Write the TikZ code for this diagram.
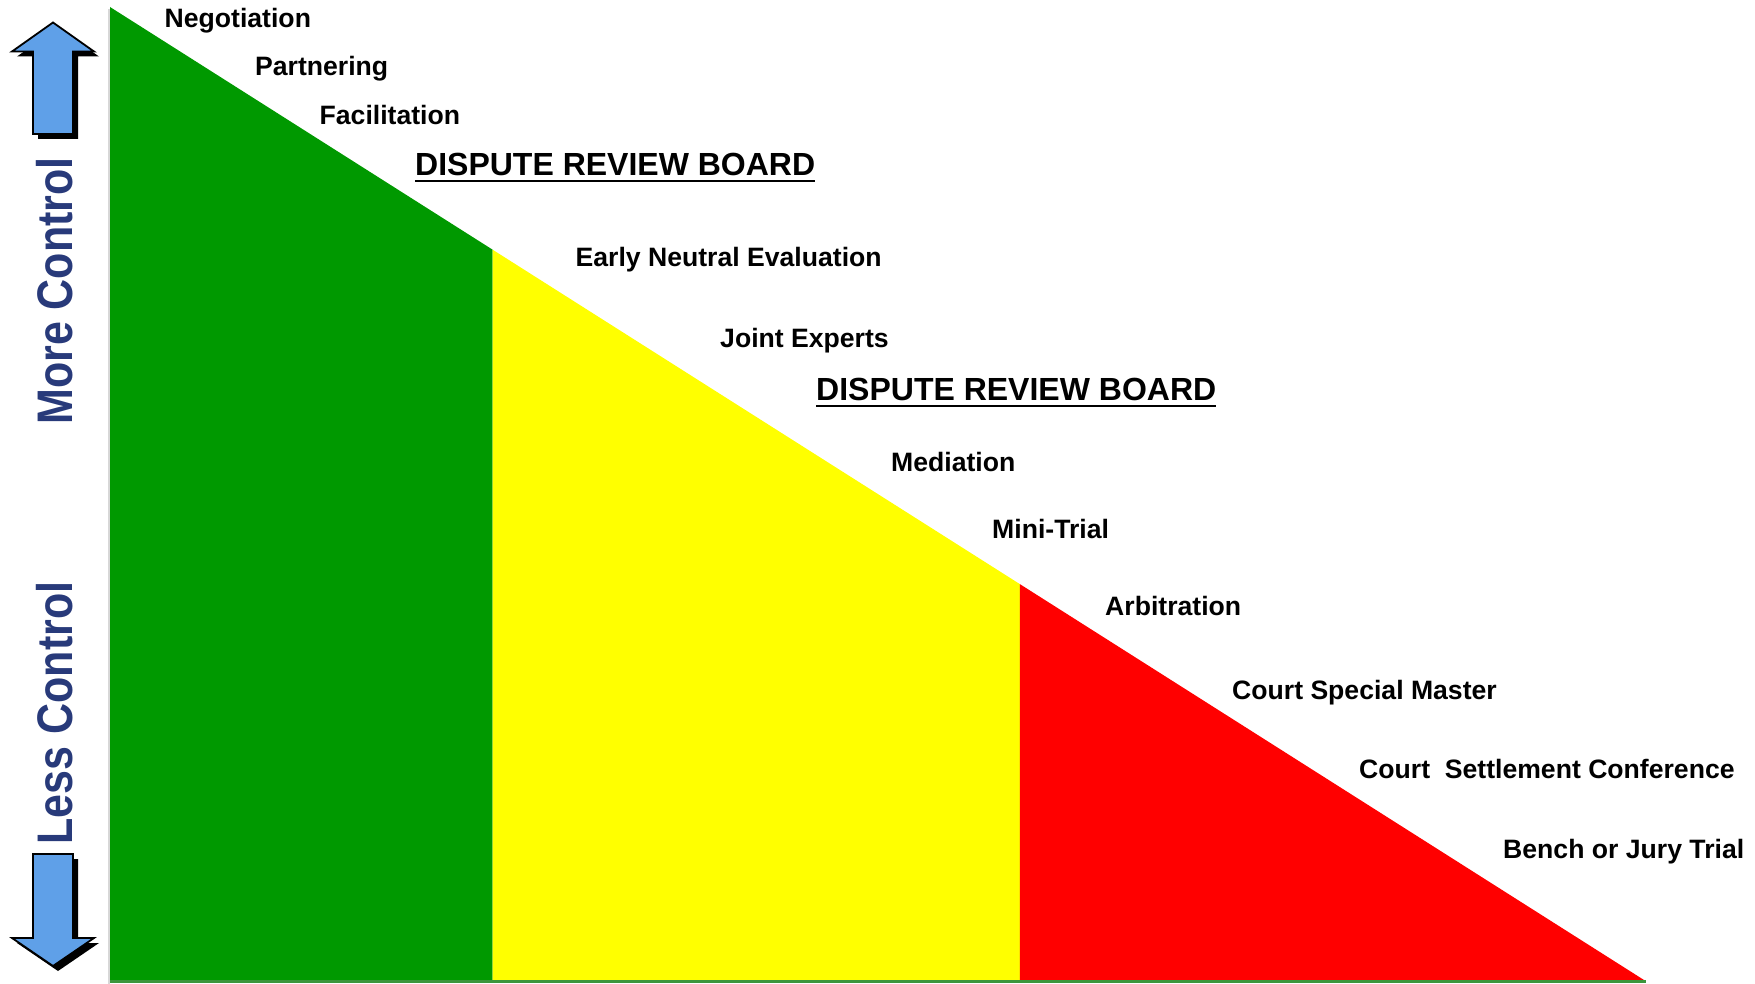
\documentclass[tikz,border=0pt]{standalone}
\usepackage{fontspec}
\usetikzlibrary{calc}
\setmainfont{Liberation Sans}
\definecolor{zonegreen}{RGB}{0,153,0}
\definecolor{zoneyellow}{RGB}{255,255,0}
\definecolor{zonered}{RGB}{255,0,0}
\definecolor{basegreen}{RGB}{60,150,60}
\definecolor{edgegrey}{RGB}{215,215,215}
\definecolor{arrowblue}{RGB}{95,160,232}
\definecolor{controlnavy}{RGB}{40,58,122}
\begin{document}
\begin{tikzpicture}[x=1pt,y=-1pt,
  lbl/.style={anchor=base west, inner sep=0pt, font=\fontsize{26.6}{30}\selectfont\bfseries},
  drb/.style={anchor=base west, inner sep=0pt, font=\fontsize{32}{36}\selectfont\bfseries},
  side/.style={rotate=90, inner sep=0pt, text=controlnavy, font=\fontsize{50}{56}\selectfont\bfseries},
  bigarrow/.style={fill=arrowblue, draw=black, line width=1.8pt, line join=miter},
  arrowshadow/.style={fill=black}]

\useasboundingbox (0,0) rectangle (1755,984);

% the slope and its three bands
\coordinate (apex) at (110,7);
\coordinate (foot) at (1644,980);
\coordinate (gy) at ($(apex)!0.24935!(foot)$);
\coordinate (yr) at ($(apex)!0.5932!(foot)$);
\fill[zonegreen] (apex) -- (gy) -- (gy |- foot) -- (apex |- foot) -- cycle;
\fill[zoneyellow] (gy) -- (yr) -- (yr |- foot) -- (gy |- foot) -- cycle;
\fill[zonered] (yr) -- (foot) -- (yr |- foot) -- cycle;
\draw[edgegrey, line width=2pt] (108.5,9) -- (108.5,984);
\draw[basegreen, line width=3pt] (110,981) -- (1646,981);

% up arrow with its shadow
\begin{scope}[shift={(5,5)}]
  \path[arrowshadow] (53,22.5) -- (94,51.5) -- (73,51.5) -- (73,134) -- (33,134) -- (33,51.5) -- (12,51.5) -- cycle;
\end{scope}
\path[bigarrow] (53,22.5) -- (94,51.5) -- (73,51.5) -- (73,134) -- (33,134) -- (33,51.5) -- (12,51.5) -- cycle;

% down arrow with its shadow
\begin{scope}[shift={(5,5)}]
  \path[arrowshadow] (33,854) -- (73,854) -- (73,938) -- (94,938) -- (53,966) -- (12,938) -- (33,938) -- cycle;
\end{scope}
\path[bigarrow] (33,854) -- (73,854) -- (73,938) -- (94,938) -- (53,966) -- (12,938) -- (33,938) -- cycle;

% side captions
\node[side] (more) at (55,291) {\scalebox{0.86}[1]{More Control}};
\node[side] (less) at (55,713) {\scalebox{0.86}[1]{Less Control}};

% methods, from most to least control
\node[lbl] (negotiation) at (164.5,27.1) {Negotiation};
\node[lbl] (partnering) at (255,75.4) {Partnering};
\node[lbl] (facilitation) at (319.5,124.3) {Facilitation};
\node[drb] (drbone) at (415,175.5) {DISPUTE REVIEW BOARD};
\node[lbl] (ene) at (575.5,266.9) {Early Neutral Evaluation};
\node[lbl] (experts) at (720,347.4) {Joint Experts};
\node[drb] (drbtwo) at (816,400.3) {DISPUTE REVIEW BOARD};
\node[lbl] (mediation) at (891,471) {Mediation};
\node[lbl] (minitrial) at (992,538.8) {Mini-Trial};
\node[lbl] (arbitration) at (1105,615.4) {Arbitration};
\node[lbl] (master) at (1232,699.3) {Court Special Master};
\node[lbl] (settlement) at (1359,778.9) {Court\ \ Settlement Conference};
\node[lbl] (trial) at (1503,858.8) {Bench or Jury Trial};

% underlines of the board captions
\draw[line width=2pt] ([yshift=-5.5pt]drbone.base west) -- ([yshift=-5.5pt]drbone.base east);
\draw[line width=2pt] ([yshift=-5.5pt]drbtwo.base west) -- ([yshift=-5.5pt]drbtwo.base east);
\end{tikzpicture}
\end{document}
